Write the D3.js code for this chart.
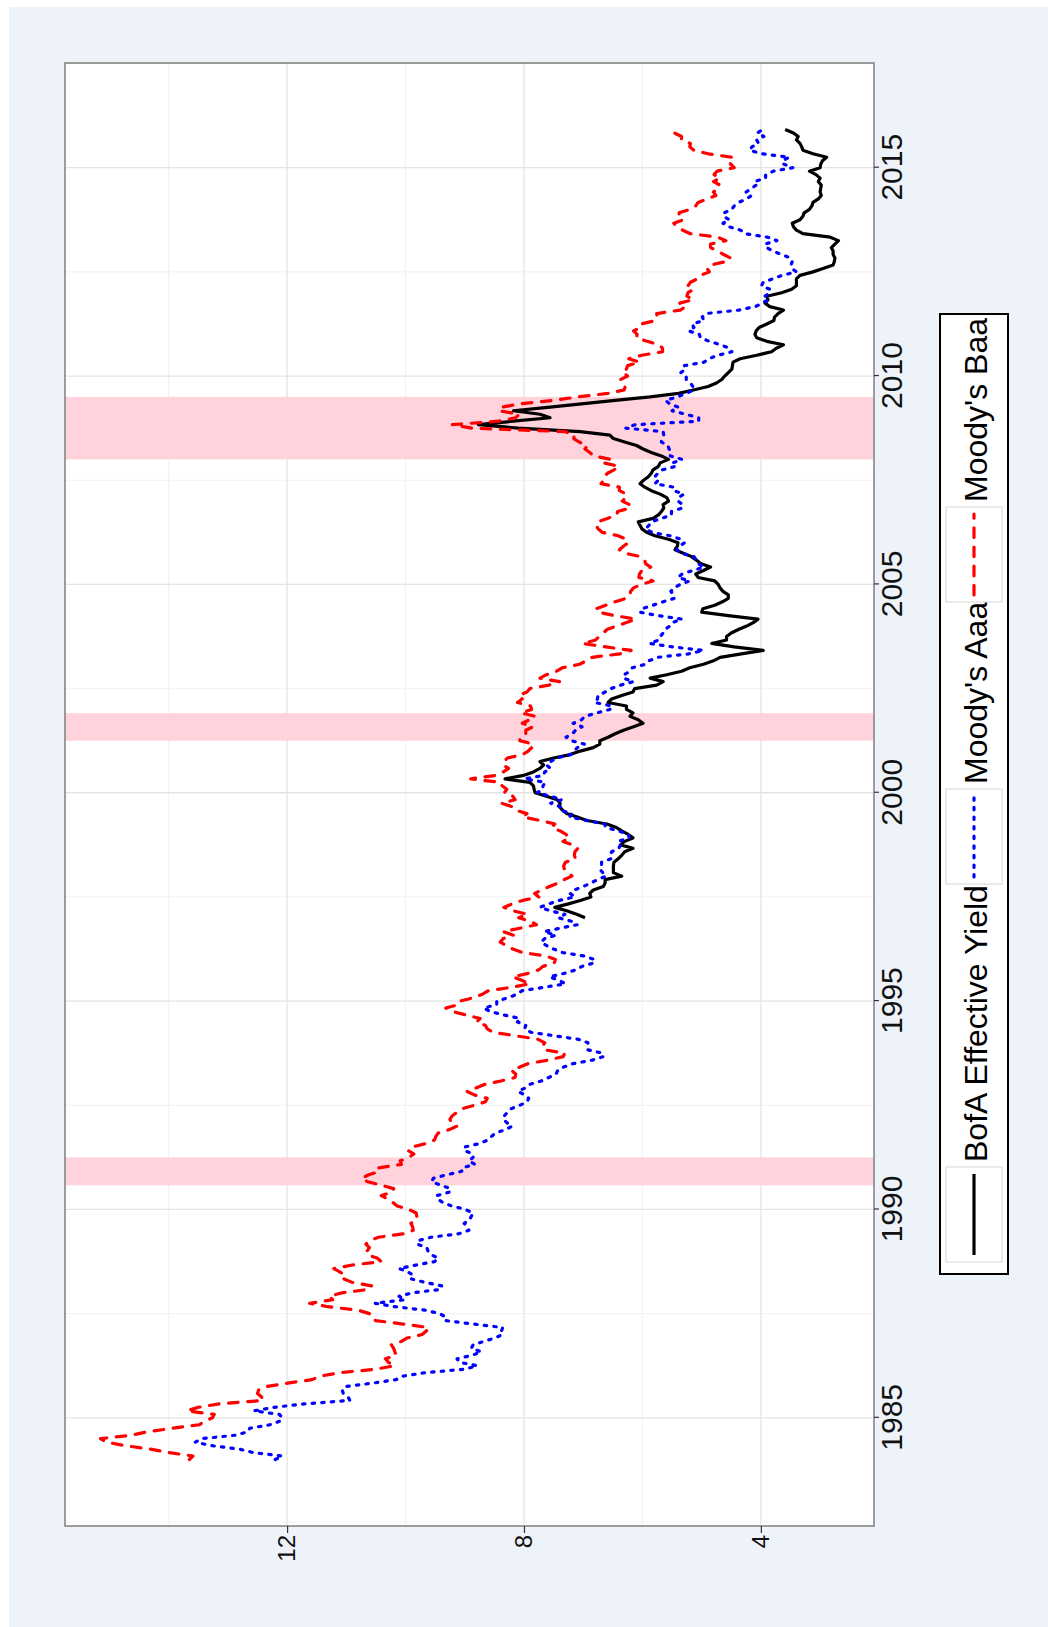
<!DOCTYPE html>
<html>
<head>
<meta charset="utf-8">
<script src="https://cdn.jsdelivr.net/npm/d3@7/dist/d3.min.js"></script>
<style>
  html, body { margin: 0; padding: 0; background: #ffffff; }
  svg { display: block; }
  text { font-family: "Liberation Sans", Arial, Helvetica, sans-serif; }
</style>
</head>
<body>
<script>
// ---------------- DATA ----------------
const moodyStart = 1984;   // first month: Jan 1984
const bofaStart = 1997;    // first month: Jan 1997

const aaaValues = [
  12.20,12.08,12.57,12.81,13.28,13.55,13.44,12.87,12.66,12.63,12.29,12.13,
  12.08,12.13,12.56,12.23,11.72,10.94,10.97,11.05,11.07,11.02,10.55,10.16,
  10.05,9.67,9.00,8.79,9.09,9.13,8.88,8.72,8.89,8.86,8.68,8.49,
  8.36,8.38,8.36,8.85,9.33,9.32,9.42,9.67,10.18,10.52,10.01,10.11,
  9.88,9.40,9.39,9.67,9.90,9.86,9.96,10.11,9.82,9.51,9.45,9.57,
  9.62,9.64,9.80,9.79,9.57,9.10,8.93,8.96,9.01,8.92,8.89,8.86,
  8.99,9.22,9.37,9.46,9.47,9.26,9.24,9.41,9.56,9.53,9.30,9.05,
  9.04,8.83,8.93,8.86,8.86,9.01,9.00,8.75,8.61,8.55,8.48,8.31,
  8.20,8.29,8.35,8.33,8.28,8.22,8.07,7.95,7.92,7.99,8.10,7.98,
  7.91,7.71,7.58,7.46,7.43,7.33,7.17,6.85,6.66,6.67,6.93,6.93,
  6.92,7.08,7.48,7.88,7.99,7.97,8.11,8.07,8.34,8.57,8.68,8.46,
  8.46,8.26,8.12,8.03,7.65,7.30,7.41,7.57,7.32,7.12,7.02,6.82,
  6.81,6.99,7.35,7.50,7.62,7.71,7.65,7.46,7.66,7.39,7.10,7.20,
  7.42,7.31,7.55,7.73,7.58,7.41,7.14,7.22,7.15,7.00,6.87,6.76,
  6.61,6.67,6.72,6.69,6.69,6.53,6.55,6.52,6.40,6.37,6.41,6.22,
  6.24,6.40,6.62,6.64,6.93,7.23,7.19,7.40,7.39,7.55,7.36,7.55,
  7.78,7.68,7.68,7.64,7.99,7.67,7.65,7.55,7.62,7.55,7.45,7.21,
  7.15,7.10,6.98,7.20,7.29,7.18,7.13,7.02,7.17,7.03,6.97,6.77,
  6.55,6.51,6.81,6.76,6.75,6.63,6.53,6.37,6.15,6.32,6.31,6.21,
  6.17,5.95,5.89,5.74,5.22,4.97,5.49,5.88,5.72,5.70,5.65,5.62,
  5.54,5.50,5.33,5.73,6.04,6.01,5.82,5.65,5.46,5.47,5.52,5.47,
  5.36,5.20,5.40,5.33,5.15,4.96,5.06,5.09,5.13,5.35,5.42,5.37,
  5.29,5.35,5.53,5.84,5.95,5.89,5.85,5.68,5.51,5.51,5.33,5.32,
  5.40,5.39,5.30,5.47,5.47,5.79,5.73,5.79,5.74,5.66,5.44,5.49,
  5.33,5.53,5.51,5.55,5.57,5.68,5.67,5.64,5.65,6.28,6.12,5.05,
  5.05,5.27,5.50,5.39,5.54,5.61,5.41,5.26,5.13,5.15,5.19,5.26,
  5.26,5.35,5.27,5.29,4.96,4.88,4.72,4.49,4.53,4.68,4.87,5.02,
  5.04,5.22,5.13,5.16,4.96,4.99,4.93,4.37,4.09,3.98,3.87,3.93,
  3.85,3.85,3.99,3.96,3.80,3.64,3.40,3.48,3.49,3.47,3.50,3.65,
  3.80,3.90,3.93,3.73,3.89,4.27,4.34,4.54,4.64,4.53,4.63,4.62,
  4.49,4.45,4.38,4.24,4.16,4.25,4.16,4.08,4.11,3.92,3.92,3.79,
  3.46,3.61,3.64,3.52,3.98,4.19,4.15,4.04,4.07,3.95,4.06,3.97
];

const baaValues = [
  13.65,13.59,13.99,14.31,14.74,15.05,15.15,14.63,14.35,13.94,13.48,13.40,
  13.26,13.23,13.69,13.51,13.15,12.40,12.43,12.50,12.48,12.36,11.99,11.58,
  11.44,11.11,10.50,10.19,10.29,10.34,10.16,10.18,10.20,10.24,10.07,9.97,
  9.72,9.65,9.61,10.04,10.51,10.52,10.61,10.80,11.31,11.62,11.23,11.29,
  11.07,10.62,10.57,10.90,11.04,11.00,11.11,11.21,10.90,10.41,10.48,10.65,
  10.65,10.61,10.67,10.61,10.46,10.03,9.87,9.88,9.91,9.81,9.81,9.82,
  9.94,10.14,10.21,10.30,10.41,10.22,10.20,10.41,10.64,10.74,10.62,10.43,
  10.45,10.07,10.09,9.94,9.86,9.96,9.89,9.65,9.51,9.49,9.45,9.26,
  9.13,9.23,9.25,9.21,9.13,9.05,8.84,8.65,8.62,8.84,8.96,8.81,
  8.67,8.39,8.15,8.14,8.21,8.07,7.93,7.60,7.34,7.31,7.66,7.69,
  7.65,7.76,8.13,8.52,8.62,8.65,8.80,8.74,8.98,9.20,9.32,9.10,
  9.08,8.85,8.70,8.60,8.20,7.90,8.04,8.19,7.93,7.75,7.68,7.49,
  7.47,7.63,8.03,8.19,8.30,8.40,8.35,8.18,8.35,8.07,7.79,7.89,
  8.09,7.94,8.18,8.34,8.20,8.02,7.75,7.82,7.70,7.57,7.42,7.32,
  7.19,7.25,7.32,7.33,7.30,7.13,7.15,7.14,7.09,7.18,7.34,7.23,
  7.29,7.39,7.53,7.48,7.72,8.02,7.95,8.15,8.20,8.38,8.15,8.19,
  8.33,8.29,8.37,8.40,8.90,8.48,8.35,8.26,8.35,8.34,8.28,8.02,
  7.93,7.87,7.84,8.07,8.07,7.97,7.97,7.85,8.03,7.91,7.81,8.05,
  7.87,7.89,8.11,8.03,8.09,7.95,7.90,7.58,7.40,7.73,7.62,7.45,
  7.35,7.06,6.95,6.85,6.38,6.19,6.62,7.01,6.79,6.73,6.66,6.60,
  6.44,6.27,6.11,6.46,6.75,6.78,6.62,6.46,6.27,6.21,6.20,6.15,
  6.02,5.82,6.06,6.05,6.01,5.86,5.95,5.96,6.03,6.30,6.39,6.32,
  6.24,6.27,6.41,6.68,6.75,6.78,6.76,6.59,6.43,6.42,6.20,6.22,
  6.34,6.28,6.27,6.39,6.39,6.70,6.65,6.65,6.59,6.48,6.40,6.65,
  6.54,6.82,6.89,6.97,6.93,7.07,7.16,7.15,7.31,8.88,9.21,8.43,
  8.14,8.08,8.42,8.39,8.06,7.50,7.09,6.58,6.31,6.29,6.32,6.37,
  6.25,6.34,6.27,6.25,6.05,6.23,6.01,5.66,5.66,5.72,5.92,6.10,
  6.09,6.15,6.03,6.02,5.78,5.75,5.76,5.36,5.27,5.37,5.14,5.25,
  5.23,5.14,5.23,5.19,5.07,5.02,4.87,4.91,4.84,4.58,4.51,4.63,
  4.73,4.85,4.85,4.59,4.73,5.19,5.32,5.42,5.47,5.31,5.38,5.38,
  5.19,5.10,5.06,4.90,4.76,4.80,4.73,4.69,4.80,4.69,4.79,4.74,
  4.45,4.51,4.54,4.48,4.89,5.13,5.20,5.19,5.34,5.34,5.46,5.46
];

const bofaValues = [
  6.97,7.11,7.28,7.48,7.25,7.05,6.87,6.89,6.83,6.66,6.63,6.63,
  6.35,6.49,6.49,6.49,6.48,6.41,6.35,6.30,6.16,6.37,6.30,6.16,
  6.24,6.35,6.44,6.60,6.94,7.10,7.28,7.35,7.40,7.39,7.44,7.62,
  7.81,7.83,7.84,7.90,8.32,8.01,7.84,7.73,7.67,7.73,7.50,7.22,
  7.05,6.83,6.72,6.72,6.58,6.46,6.32,6.15,5.99,6.07,6.21,6.16,
  6.27,6.27,6.58,6.52,6.35,6.16,6.13,5.76,5.65,5.87,5.59,5.34,
  5.20,4.97,4.80,4.69,4.33,3.96,4.45,4.83,4.58,4.58,4.50,4.38,
  4.24,4.13,4.05,4.55,5.00,4.98,4.78,4.65,4.55,4.55,4.64,4.69,
  4.72,4.78,5.06,5.10,4.97,4.85,5.02,5.09,5.17,5.31,5.45,5.41,
  5.40,5.56,5.79,5.93,6.01,6.04,6.07,5.82,5.73,5.68,5.64,5.65,
  5.56,5.59,5.70,5.85,5.96,6.04,5.98,5.90,5.85,5.82,5.73,5.70,
  5.56,5.68,5.85,5.99,6.10,6.30,6.49,6.55,7.05,8.10,8.77,8.18,
  7.56,7.73,8.18,7.60,7.03,6.46,5.87,5.39,5.14,4.89,4.75,4.66,
  4.61,4.55,4.49,4.48,4.47,4.35,4.07,3.82,3.74,3.62,3.90,4.07,
  4.10,4.08,4.03,3.90,3.78,3.77,3.71,3.62,3.85,3.93,3.88,3.90,
  3.65,3.48,3.40,3.40,3.40,3.34,3.12,2.95,2.78,2.76,2.75,2.78,
  2.78,2.81,2.75,2.69,2.83,3.29,3.40,3.45,3.47,3.34,3.29,3.27,
  3.18,3.14,3.12,3.03,2.98,3.00,2.99,2.98,3.03,3.00,3.07,3.18,
  3.00,2.99,2.96,2.89,3.12,3.29,3.31,3.34,3.40,3.37,3.45,3.59
];

const seriesNames = ["BofA Effective Yield", "Moody's Aaa", "Moody's Baa"];
const seriesColors = ["#000000", "#0000ff", "#ff0000"];
const seriesDash = [null, "2.4,7.2", "9.6,9.6"];

// recession periods (decimal years)
const recessionStart = [1990.58, 2001.25, 2008.0];
const recessionEnd   = [1991.25, 2001.91, 2009.5];

const yearTicks = [1985, 1990, 1995, 2000, 2005, 2010, 2015];
const yearMinor = [1982.5, 1987.5, 1992.5, 1997.5, 2002.5, 2007.5, 2012.5, 2017.5];
const valueTicks = [4, 8, 12];
const valueMinor = [6, 10, 14];
const valueDomain = [2.09, 15.75];

// ---------------- BUILD ----------------
function toSeries(start, vals) {
  return vals.map((v, i) => ({ t: start + i / 12, v: v }));
}
const series = [
  toSeries(bofaStart, bofaValues),
  toSeries(moodyStart, aaaValues),
  toSeries(moodyStart, baaValues)
];

const pageW = 1048, pageH = 1627;
const svg = d3.select("body").append("svg")
  .attr("width", pageW).attr("height", pageH);

// whole chart is drawn unrotated, then turned 90° counter-clockwise
const g = svg.append("g").attr("transform", `translate(0,${pageH}) rotate(-90)`);

g.append("rect").attr("x", 0).attr("y", 9).attr("width", 1620).attr("height", 1039)
  .attr("fill", "#eef3fa");

const panel = { x0: 101, x1: 1564, y0: 65, y1: 874 };

const tMin = d3.min(series, s => s[0].t), tMax = d3.max(series, s => s[s.length - 1].t);
const tPad = (tMax - tMin) * 0.05;
const x = d3.scaleLinear().domain([tMin - tPad, tMax + tPad]).range([panel.x0, panel.x1]);
const y = d3.scaleLinear().domain(valueDomain).range([panel.y1, panel.y0]);

g.append("rect").attr("x", panel.x0).attr("y", panel.y0)
  .attr("width", panel.x1 - panel.x0).attr("height", panel.y1 - panel.y0)
  .attr("fill", "#ffffff");

// grid
const grid = g.append("g");
grid.selectAll("line.xm").data(yearMinor.filter(d => x(d) >= panel.x0 && x(d) <= panel.x1)).join("line")
  .attr("x1", d => x(d)).attr("x2", d => x(d)).attr("y1", panel.y0).attr("y2", panel.y1)
  .attr("stroke", "#f3f3f3").attr("stroke-width", 1.2);
grid.selectAll("line.ym").data(valueMinor).join("line")
  .attr("y1", d => y(d)).attr("y2", d => y(d)).attr("x1", panel.x0).attr("x2", panel.x1)
  .attr("stroke", "#f3f3f3").attr("stroke-width", 1.2);
grid.selectAll("line.xM").data(yearTicks).join("line")
  .attr("x1", d => x(d)).attr("x2", d => x(d)).attr("y1", panel.y0).attr("y2", panel.y1)
  .attr("stroke", "#e4e4e4").attr("stroke-width", 1.3);
grid.selectAll("line.yM").data(valueTicks).join("line")
  .attr("y1", d => y(d)).attr("y2", d => y(d)).attr("x1", panel.x0).attr("x2", panel.x1)
  .attr("stroke", "#e4e4e4").attr("stroke-width", 1.3);

// recession shading
g.append("g").selectAll("rect").data(recessionStart).join("rect")
  .attr("x", (d) => x(d))
  .attr("width", (d, i) => x(recessionEnd[i]) - x(d))
  .attr("y", panel.y0).attr("height", panel.y1 - panel.y0)
  .attr("fill", "#ffd2dc");

// lines
const line = d3.line().x(d => x(d.t)).y(d => y(d.v));
const lines = g.append("g");
series.forEach((s, i) => {
  lines.append("path").datum(s)
    .attr("d", line)
    .attr("fill", "none")
    .attr("stroke", seriesColors[i])
    .attr("stroke-width", 3.2)
    .attr("stroke-linejoin", "round")
    .attr("stroke-linecap", seriesDash[i] ? "round" : "butt")
    .attr("stroke-dasharray", seriesDash[i]);
});

// panel border
g.append("rect").attr("x", panel.x0).attr("y", panel.y0)
  .attr("width", panel.x1 - panel.x0).attr("height", panel.y1 - panel.y0)
  .attr("fill", "none").attr("stroke", "#7f7f7f").attr("stroke-width", 1.5);

// axes
const yAxis = g.append("g").attr("transform", `translate(${panel.x0},0)`)
  .call(d3.axisLeft(y).tickValues(valueTicks).tickSize(7).tickPadding(2).tickFormat(d3.format("d")));
yAxis.select(".domain").remove();
yAxis.selectAll(".tick line").attr("stroke", "#333333").attr("stroke-width", 1.2);
yAxis.selectAll(".tick text").attr("font-size", 24).attr("fill", "#111111")
  .style("font-family", '"Liberation Sans", Arial, sans-serif');

const xAxis = g.append("g").attr("transform", `translate(0,${panel.y1})`)
  .call(d3.axisBottom(x).tickValues(yearTicks).tickSize(5).tickPadding(2).tickFormat(d3.format("d")));
xAxis.select(".domain").remove();
xAxis.selectAll(".tick line").attr("stroke", "#333333").attr("stroke-width", 1.2);
xAxis.selectAll(".tick text").attr("font-size", 30).attr("fill", "#111111")
  .style("font-family", '"Liberation Sans", Arial, sans-serif');

// legend
const legend = g.append("g");
legend.append("rect").attr("x", 353).attr("y", 940).attr("width", 960).attr("height", 68)
  .attr("fill", "#ffffff").attr("stroke", "#000000").attr("stroke-width", 2);
const keyStarts = [365, 743, 1025];
const keyW = 95, keyY = 946, keyH = 56;
seriesNames.forEach((name, i) => {
  const k = keyStarts[i];
  legend.append("rect").attr("x", k).attr("y", keyY).attr("width", keyW).attr("height", keyH)
    .attr("fill", "#ffffff").attr("stroke", "#d6d6d6").attr("stroke-width", 1);
  legend.append("line").attr("x1", k + 7).attr("x2", k + keyW - 7)
    .attr("y1", keyY + keyH / 2).attr("y2", keyY + keyH / 2)
    .attr("stroke", seriesColors[i]).attr("stroke-width", 3.2)
    .attr("stroke-linecap", seriesDash[i] ? "round" : "butt")
    .attr("stroke-dasharray", seriesDash[i]);
  legend.append("text").attr("x", k + keyW + 5).attr("y", 986.5)
    .attr("font-size", 32).attr("fill", "#000000").text(name);
});
</script>
</body>
</html>
